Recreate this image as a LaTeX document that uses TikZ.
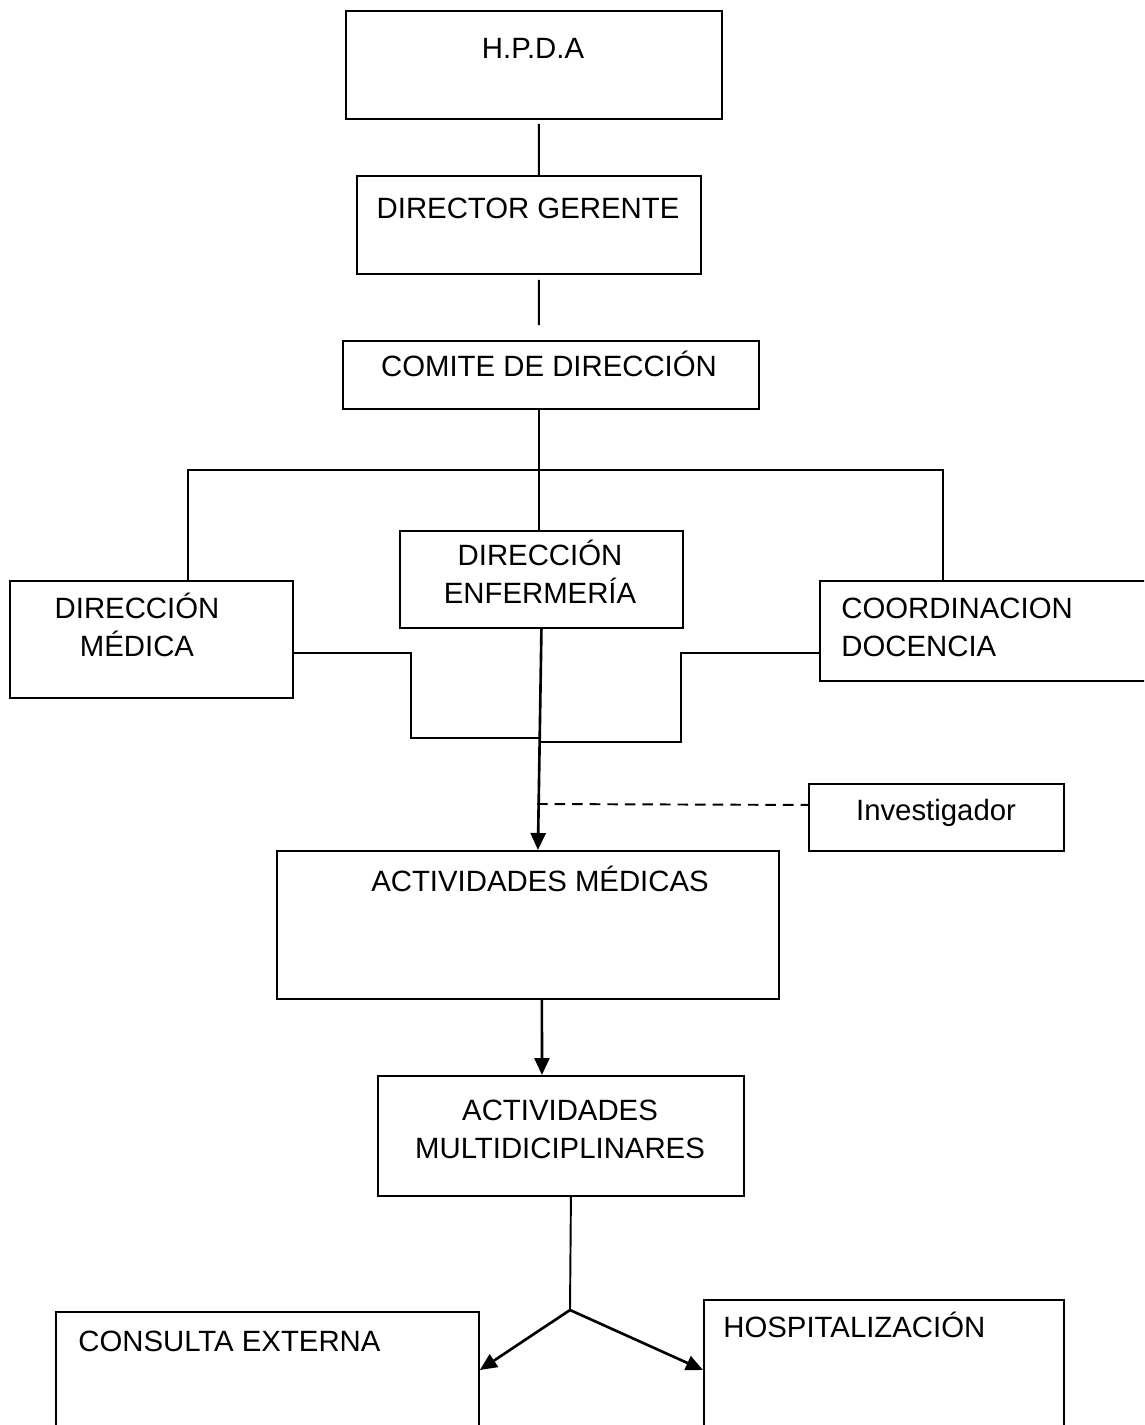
\documentclass[tikz,border=0pt]{standalone}
\usepackage{fontspec}
\setmainfont{Liberation Sans}
\usetikzlibrary{arrows.meta}
\newcommand{\orgfont}{\fontsize{16.7pt}{21.8pt}\selectfont}
\tikzset{
	orgbox/.style={draw, line width=1.1pt, rectangle, inner sep=0pt, anchor=north west},
	boxtext/.style={inner sep=0pt, font=\orgfont},
	link/.style={line width=1.1pt},
	flecha/.style={line width=1.5pt, -{Triangle[length=0.34cm,width=0.3cm]}}
}

\begin{document}
\begin{tikzpicture}[x=0.02cm, y=-0.02cm]
		%%%%% START %%%%%
		\useasboundingbox (0, 0) rectangle (1144, 1425);
		\clip (0, 0) rectangle (1144, 1425);
		
		\node[orgbox, minimum width=7.52cm, minimum height=2.16cm] (hpda) at (345, 10) {};
		\node[boxtext, anchor=base] (hpda-t) at (533, 58.5) {H.P.D.A};
		
		\node[orgbox, minimum width=6.88cm, minimum height=1.96cm] (dg) at (356, 175) {};
		\node[boxtext, anchor=base] (dg-t) at (528, 218.5) {DIRECTOR GERENTE};
		
		\node[orgbox, minimum width=8.32cm, minimum height=1.36cm] (cd) at (342, 340) {};
		\node[boxtext, anchor=base] (cd-t) at (549, 376.5) {COMITE DE DIRECCIÓN};
		
		\node[orgbox, minimum width=5.66cm, minimum height=1.94cm] (enf) at (399, 530) {};
		\node[boxtext, align=center] (enf-t) at (540, 572) {DIRECCIÓN\\ENFERMERÍA};
		
		\node[orgbox, minimum width=5.66cm, minimum height=2.34cm] (med) at (9, 580) {};
		\node[boxtext, align=center] (med-t) at (137, 625) {DIRECCIÓN\\MÉDICA};
		
		\node[orgbox, minimum width=6.62cm, minimum height=2.00cm] (coord) at (819, 580) {};
		\node[boxtext, align=left, anchor=west] (coord-t) at (841, 627.5) {COORDINACION\\DOCENCIA};
		
		\node[orgbox, minimum width=5.10cm, minimum height=1.34cm] (inv) at (808, 783) {};
		\node[boxtext, anchor=base] (inv-t) at (936, 820.5) {Investigador};
		
		\node[orgbox, minimum width=10.04cm, minimum height=2.96cm] (actmed) at (276, 850) {};
		\node[boxtext, anchor=base] (actmed-t) at (540, 891.5) {ACTIVIDADES MÉDICAS};
		
		\node[orgbox, minimum width=7.32cm, minimum height=2.40cm] (multi) at (377, 1075) {};
		\node[boxtext, align=center] (multi-t) at (560, 1129.5) {ACTIVIDADES\\MULTIDICIPLINARES};
		
		\node[orgbox, minimum width=8.46cm, minimum height=2.80cm] (cons) at (55, 1311) {};
		\node[boxtext, anchor=base west] (cons-t) at (78, 1351.5) {CONSULTA EXTERNA};
		
		\node[orgbox, minimum width=7.20cm, minimum height=3.00cm] (hosp) at (703, 1299) {};
		\node[boxtext, anchor=base west] (hosp-t) at (723, 1337.5) {HOSPITALIZACIÓN};
		
		% lineas de mando
		\draw[link] ([xshift=0.1cm, yshift=-0.08cm]hpda.south) -- ([xshift=0.2cm]dg.north);
		\draw[link] ([xshift=0.2cm, yshift=-0.1cm]dg.south) -- ([xshift=-0.24cm, yshift=0.3cm]cd.north);
		\draw[link] ([xshift=-0.05cm]enf.north |- cd.south) -- ([xshift=-0.05cm]enf.north);
		
		\coordinate (br) at (538, 470);
		\draw[link] ([xshift=0.73cm]med.north) |- (br) -| ([xshift=-0.85cm]coord.north);
		
		\coordinate (jl) at (541, 738);
		\coordinate (jr) at (541, 742);
		\draw[link] ([yshift=-0.27cm]med.east) -| (411, 738) -- (jl);
		\draw[link] ([yshift=-0.44cm]coord.west) -| (681, 742) -- (jr);
		
		\draw[flecha] (enf.south) -- ([xshift=0.2cm]actmed.north);
		\coordinate (dsh) at (537, 804);
		\draw[link, dash pattern=on 6pt off 4pt] (dsh) -- ([yshift=0.25cm]inv.west);
		
		\draw[flecha] ([xshift=0.28cm]actmed.south) -- ([xshift=-0.38cm]multi.north);
		
		\coordinate (fork) at (570, 1310);
		\draw[link] ([xshift=0.2cm]multi.south) -- (fork);
		\draw[flecha] (fork) -- ([yshift=-1.18cm]cons.north east);
		\draw[flecha] (fork) -- ([yshift=-1.42cm]hosp.north west);
		
		%%%%% END %%%%%
	\end{tikzpicture}
\end{document}
